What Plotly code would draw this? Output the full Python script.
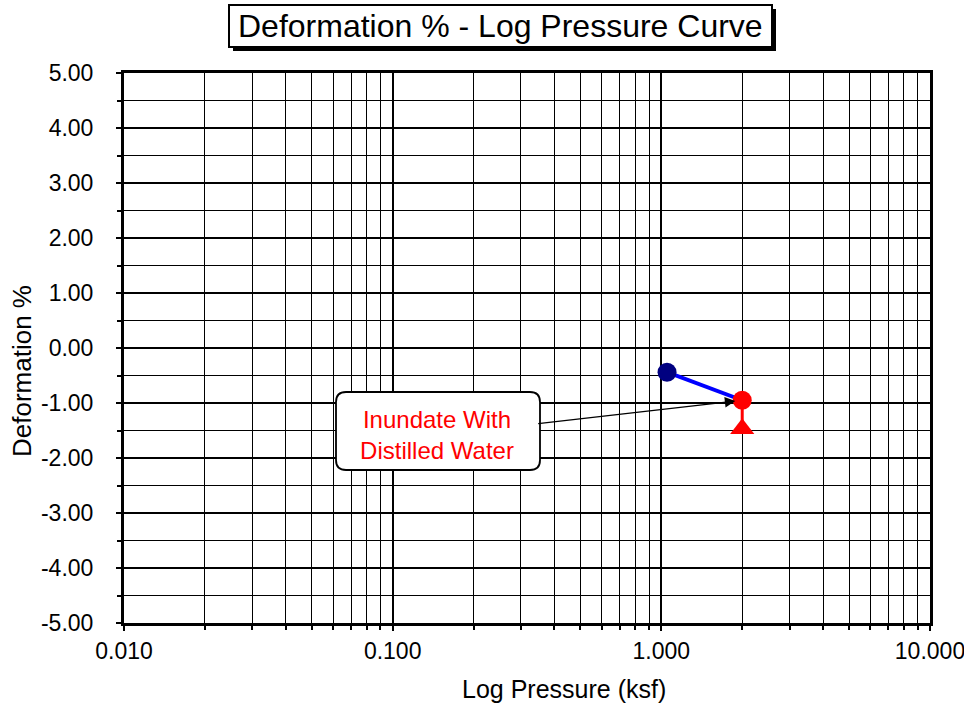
import plotly.graph_objects as go
import numpy as np

# Data
pressure_ksf = [1.05, 2.0]
deformation_pct = [-0.44, -0.95]
point_colors = ["#000080", "#FF0000"]
inundate_pressure = [2.0, 2.0]
inundate_deform = [-0.95, -1.38]
inundate_marker_deform = [-1.47]

x_tickvals = [0.01, 0.1, 1, 10]
x_ticktext = ["0.010", "0.100", "1.000", "10.000"]
x_minor = [m * d for d in [0.01, 0.1, 1] for m in range(2, 10)]
y_tickvals = [-5, -4, -3, -2, -1, 0, 1, 2, 3, 4, 5]
y_ticktext = ["%.2f" % v for v in y_tickvals]

FONT = "Liberation Sans, Arial, sans-serif"

W, H = 964, 705
L, R, T, B = 124, 34, 73, 82
PW, PH = W - L - R, H - T - B


def px_x(p):
    return (p - L) / PW


def px_y(p):
    return (H - B - p) / PH


fig = go.Figure()

fig.add_trace(go.Scatter(x=pressure_ksf, y=deformation_pct, mode="lines",
                         line=dict(color="#0000FF", width=4), showlegend=False, hoverinfo="skip"))
fig.add_trace(go.Scatter(x=inundate_pressure, y=inundate_deform, mode="lines",
                         line=dict(color="#FF0000", width=3), showlegend=False, hoverinfo="skip"))
fig.add_trace(go.Scatter(x=[inundate_pressure[0]], y=inundate_marker_deform, mode="markers",
                         marker=dict(symbol="triangle-up", size=21, color="#FF0000"),
                         showlegend=False))
fig.add_trace(go.Scatter(x=pressure_ksf, y=deformation_pct, mode="markers",
                         marker=dict(size=19, color=point_colors), showlegend=False))

# Title box with drop shadow
tx0, tx1, ty0, ty1, sh = 229, 772, 5, 47, 4
fig.add_shape(type="rect", xref="paper", yref="paper",
              x0=px_x(tx0 + sh), x1=px_x(tx1 + sh), y0=px_y(ty1 + sh), y1=px_y(ty0 + sh),
              fillcolor="black", line=dict(color="black", width=0), layer="above")
fig.add_shape(type="rect", xref="paper", yref="paper",
              x0=px_x(tx0), x1=px_x(tx1), y0=px_y(ty1), y1=px_y(ty0),
              fillcolor="white", line=dict(color="black", width=2), layer="above")
fig.add_annotation(
    text="Deformation % - Log Pressure Curve", xref="paper", yref="paper",
    x=px_x((tx0 + tx1) / 2), y=px_y((ty0 + ty1) / 2), xanchor="center", yanchor="middle",
    showarrow=False, font=dict(family=FONT, size=32, color="black"),
)

# Callout rounded box
bx0, bx1, by0, by1, rad = 336, 540, 392, 470, 10
rx, ry = rad / PW, rad / PH
x0, x1 = px_x(bx0), px_x(bx1)
y1, y0 = px_y(by0), px_y(by1)
path = (f"M {x0+rx},{y0} L {x1-rx},{y0} Q {x1},{y0} {x1},{y0+ry} "
        f"L {x1},{y1-ry} Q {x1},{y1} {x1-rx},{y1} L {x0+rx},{y1} "
        f"Q {x0},{y1} {x0},{y1-ry} L {x0},{y0+ry} Q {x0},{y0} {x0+rx},{y0} Z")
fig.add_shape(type="path", path=path, xref="paper", yref="paper",
              fillcolor="white", line=dict(color="black", width=1.8), layer="above")

fig.add_annotation(
    x=np.log10(pressure_ksf[1]), y=deformation_pct[1], xref="x", yref="y",
    text="Inundate With<br>Distilled Water", showarrow=True,
    ax=-305, ay=35, arrowhead=2, arrowsize=1.6, arrowwidth=1.3, arrowcolor="black",
    standoff=7, width=200, height=74,
    font=dict(family=FONT, size=24, color="#FF0000"),
    bgcolor="rgba(0,0,0,0)", borderwidth=0,
)

# Axis titles
fig.add_annotation(text="Log Pressure (ksf)", xref="paper", yref="paper",
                   x=px_x(564), y=px_y(689), xanchor="center", yanchor="middle",
                   showarrow=False, font=dict(family=FONT, size=25, color="black"))
fig.add_annotation(text="Deformation %", xref="paper", yref="paper", textangle=-90,
                   x=px_x(22), y=px_y(371), xanchor="center", yanchor="middle",
                   showarrow=False, font=dict(family=FONT, size=26, color="black"))

fig.update_xaxes(
    type="log", range=[-2, 1], tickvals=x_tickvals, ticktext=x_ticktext,
    showgrid=True, gridcolor="black", gridwidth=2,
    showline=True, linecolor="black", linewidth=3, mirror=True,
    ticks="outside", ticklen=5, tickwidth=2, tickcolor="black",
    tickfont=dict(family=FONT, size=23, color="black"), ticklabelstandoff=0,
    ticklabeloverflow="allow",
    minor=dict(tickvals=x_minor, showgrid=True, gridcolor="black", gridwidth=1,
               ticks="outside", ticklen=4, tickcolor="black", tickwidth=1.5),
    zeroline=False, automargin=False,
)
fig.update_yaxes(
    range=[-5, 5], tickvals=y_tickvals, ticktext=y_ticktext,
    showgrid=True, gridcolor="black", gridwidth=2,
    showline=True, linecolor="black", linewidth=3, mirror=True,
    ticks="outside", ticklen=5, tickwidth=2, tickcolor="black",
    tickfont=dict(family=FONT, size=23, color="black"), ticklabelstandoff=18,
    ticklabeloverflow="allow",
    minor=dict(dtick=0.5, showgrid=True, gridcolor="black", gridwidth=1,
               ticks="outside", ticklen=4, tickcolor="black", tickwidth=1.5),
    zeroline=False, automargin=False,
)

fig.update_layout(
    width=W, height=H,
    margin=dict(l=L, r=R, t=T, b=B),
    paper_bgcolor="white", plot_bgcolor="white",
)

fig.write_html("out.html")
